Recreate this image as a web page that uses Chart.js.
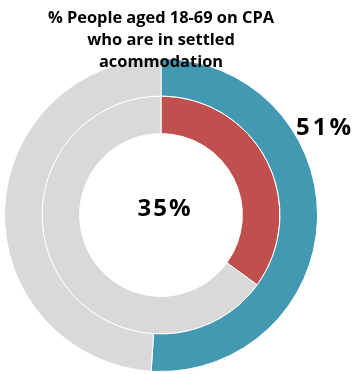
<!DOCTYPE html>
<html>
<head>
<meta charset="utf-8">
<script src="https://cdn.jsdelivr.net/npm/chart.js@4"></script>
<style>
  html, body { margin: 0; padding: 0; background: #fff; }
  #wrap { width: 358px; height: 374px; }
</style>
</head>
<body>
<div id="wrap"><canvas id="ringChart"></canvas></div>
<script>
const titleLines = ["% People aged 18-69 on CPA", "who are in settled", "acommodation"];
const categories = ["Settled", "Not settled"];
const outerValues = [51, 49];   // outer ring
const innerValues = [35, 65];   // inner ring
const ringColors = {
    outer: ["#4399B2", "#D9D9D9"],
    inner: ["#C0504D", "#D9D9D9"],
};

const fontFamily = "'Open Sans', 'Liberation Sans', sans-serif";

const textPlugin = {
    id: "textPlugin",
    afterDraw(chart) {
        const ctx = chart.ctx;
        const arc = chart.getDatasetMeta(0).data[0];
        const cx = arc.x;
        ctx.save();
        ctx.fillStyle = "#000";
        ctx.textAlign = "center";
        ctx.textBaseline = "alphabetic";

        // title
        ctx.font = "bold 16.4px " + fontFamily;
        const baselines = [23, 45, 67];
        titleLines.forEach((line, i) => ctx.fillText(line, cx, baselines[i]));

        // centre value (inner ring)
        ctx.font = "bold 24px " + fontFamily;
        ctx.letterSpacing = "2px";
        ctx.fillText(innerValues[0] + "%", cx + 4, 216);

        // outer ring value
        ctx.textAlign = "left";
        ctx.letterSpacing = "3px";
        ctx.fillText(outerValues[0] + "%", 296, 135);
        ctx.restore();
    }
};

const ctx = document.getElementById("ringChart").getContext("2d");
new Chart(ctx, {
    type: "doughnut",
    data: {
        labels: categories,
        datasets: [
            {
                data: outerValues,
                backgroundColor: ringColors.outer,
                borderColor: "#fff",
                borderWidth: 1,
            },
            {
                data: innerValues,
                backgroundColor: ringColors.inner,
                borderColor: "#fff",
                borderWidth: 1,
            },
        ],
    },
    options: {
        responsive: true,
        maintainAspectRatio: false,
        animation: false,
        cutout: "52%",
        layout: {
            padding: { left: 4, right: 40, top: 58, bottom: 2 },
        },
        plugins: {
            legend: { display: false },
            title: { display: false },
            tooltip: { enabled: false },
        },
    },
    plugins: [textPlugin],
});
</script>
</body>
</html>
